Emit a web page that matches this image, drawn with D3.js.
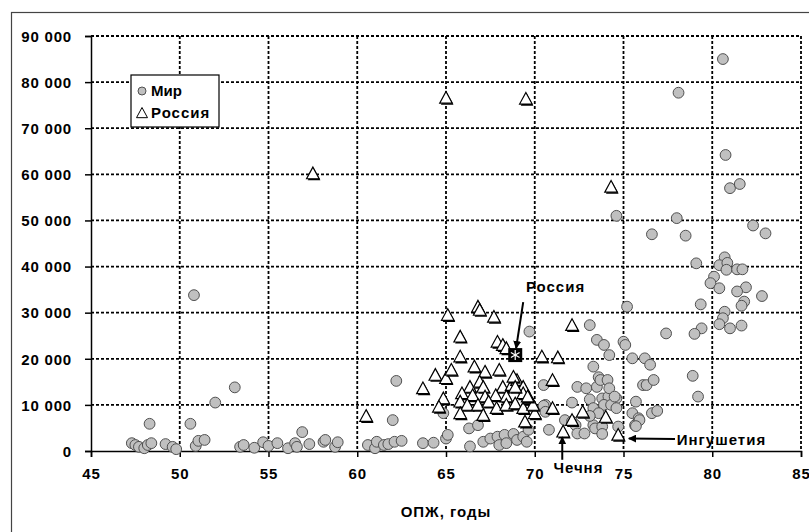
<!DOCTYPE html>
<html>
<head>
<meta charset="utf-8">
<script src="https://cdn.jsdelivr.net/npm/d3@7"></script>
<style>
  body { margin: 0; background: #fff; }
  svg text { font-family: "Liberation Sans", Arial, sans-serif; font-weight: bold; fill: #000; }
</style>
</head>
<body>
<svg id="chart" width="809" height="532"></svg>
<script>
// ОПЖ (years) vs GRP per capita
var xTicks = [45, 50, 55, 60, 65, 70, 75, 80, 85];
var yTicks = [0, 10000, 20000, 30000, 40000, 50000, 60000, 70000, 80000, 90000];

// Мир — countries of the world
var worldPoints = [
  [47.3,1700],[47.5,1300],[47.7,900],[48.0,600],[48.2,1300],[48.4,1700],[48.3,5900],[49.2,1500],
  [49.6,900],[49.8,400],[50.6,5900],[50.8,33800],[50.9,1100],[51.05,2200],[51.4,2400],[52.0,10500],
  [53.1,13800],[53.4,900],[53.6,1300],[54.2,700],[54.7,1900],[55.0,1100],[55.5,1700],[56.1,600],
  [56.5,1700],[56.6,900],[56.9,4100],[57.3,1500],[58.1,2000],[58.2,2400],[58.75,900],[58.9,1900],
  [60.6,1300],[61.0,600],[61.1,2000],[61.5,1300],[61.75,1500],[62.1,2000],[62.5,2200],[62.0,6700],
  [62.2,15200],[63.7,1700],[64.3,1800],[64.85,8200],[65.0,2700],[65.1,3500],[66.3,4900],[66.8,5600],
  [66.35,1000],[67.1,2000],[67.5,2700],[67.9,3100],[68.3,3500],[68.0,1300],[68.4,1700],[68.8,3700],
  [69.0,2400],[69.35,3100],[69.55,2000],[69.65,4600],[69.7,25900],[70.5,14300],[70.6,10000],
  [70.5,9800],[70.6,8500],[70.8,4600],[71.7,6700],[72.1,6400],[72.3,5600],[72.4,3800],[72.8,3800],
  [73.3,5600],[73.4,4900],[73.8,5300],[73.8,3700],[74.7,5300],[72.1,10500],[73.1,11200],[73.8,11400],
  [74.15,11800],[74.6,11400],[73.9,10000],[74.3,10000],[74.6,9300],[73.3,9300],[73.6,8200],
  [73.1,7600],[75.5,8200],[75.85,7100],[75.65,5600],[76.6,8200],[76.9,8700],[72.4,13900],[72.9,13600],
  [73.5,13900],[73.6,16000],[73.7,15400],[74.1,15400],[74.2,13600],[74.5,11800],[73.3,18300],
  [76.1,14300],[76.3,14300],[76.7,15400],[75.7,10700],[75.9,6700],[75.7,5400],[73.1,27300],
  [73.5,24100],[73.9,23000],[75.0,23700],[75.1,23000],[74.2,20800],[75.5,20100],[76.2,20100],
  [76.5,18700],[75.2,31300],[77.4,25500],[74.6,51000],[78.0,50500],[76.6,47000],[78.5,46700],
  [82.3,48900],[83.0,47200],[79.1,40700],[80.7,42000],[80.4,40300],[80.85,40800],[80.8,39300],
  [81.4,39400],[81.7,39400],[80.1,37800],[79.9,36400],[80.4,35300],[81.9,35500],[81.4,34600],
  [82.8,33600],[81.8,32400],[81.65,31500],[79.35,31800],[80.7,30200],[80.6,28800],[80.4,27500],
  [81.0,26600],[81.65,27200],[79.4,26600],[79.0,25400],[78.9,16300],[79.2,11800],[80.6,85000],
  [78.1,77700],[80.75,64200],[81.0,57000],[81.55,57900]
];

// Россия — regions of Russia
var russiaPoints = [
  [57.5,60200],[65.0,76600],[69.5,76400],[74.3,57300],[60.5,7600],[63.7,13600],[64.4,16500],
  [65.0,15800],[65.3,17600],[65.1,29500],[65.8,24800],[65.8,20500],[66.6,18300],[66.8,31300],
  [66.9,30600],[67.7,29100],[67.9,23700],[68.2,23000],[68.4,22300],[67.2,17200],[68.0,17600],
  [66.35,13900],[66.9,15000],[67.1,13900],[68.2,13900],[68.7,14300],[69.0,15400],[69.35,13900],
  [64.85,11400],[65.9,12500],[66.5,12100],[67.2,11800],[67.8,12100],[68.4,11800],[64.6,9600],
  [65.8,10700],[66.2,10000],[66.8,10000],[67.4,10700],[67.85,9300],[68.4,10000],[68.9,10300],
  [69.35,9300],[65.8,8200],[67.1,7800],[69.45,6400],[70.4,20500],[71.3,20300],[72.1,27300],
  [71.0,15400],[70.0,8200],[71.0,9300],[71.6,4200],[72.1,6700],[72.7,8500],[74.0,7400],[74.7,3500],
  [68.8,16100],[69.35,12500],[69.7,11400],[68.9,13900],[69.9,10000],[69.6,11800]
];

var russiaTotal = [68.9, 20800];

// annotations: text position, arrow start, arrow end (data units)
var notes = [
  { label: "Россия",    tx: 69.5, ty: 34500, x1: 69.35, y1: 32300, x2: 68.95, y2: 22300 },
  { label: "Чечня",     tx: 71.05, ty: -4700, x1: 71.55, y1: -1900, x2: 71.55, y2: 3000 },
  { label: "Ингушетия", tx: 78.0, ty: 1300, x1: 77.9, y1: 2600, x2: 75.3, y2: 2700 }
];

var svg = d3.select("#chart");
var margin = { left: 91, top: 36 },
    width = 710, height = 415;

// outer chart frame (cropped at right and bottom)
svg.append("rect")
  .attr("x", 11.5).attr("y", 12.5)
  .attr("width", 900).attr("height", 600)
  .attr("fill", "#fff").attr("stroke", "#444").attr("stroke-width", 1.2);

var x = d3.scaleLinear().domain([45, 85]).range([0, width]);
var y = d3.scaleLinear().domain([0, 90000]).range([height, 0]);

var g = svg.append("g").attr("transform", "translate(" + margin.left + "," + margin.top + ")");

// dotted grid
g.append("g").selectAll("line")
  .data(yTicks.filter(d => d > 0))
  .enter().append("line")
    .attr("x1", 0).attr("x2", width)
    .attr("y1", d => y(d)).attr("y2", d => y(d))
    .attr("stroke", "#000").attr("stroke-width", 1.8).attr("stroke-dasharray", "3,2");

g.append("g").selectAll("line")
  .data(xTicks.filter(d => d > 45))
  .enter().append("line")
    .attr("x1", d => x(d)).attr("x2", d => x(d))
    .attr("y1", 0).attr("y2", height)
    .attr("stroke", "#000").attr("stroke-width", 1.8).attr("stroke-dasharray", "3,2");

var fmt = d => d3.format(",")(d).replace(/,/g, " ");

var xAxis = g.append("g")
  .attr("transform", "translate(0," + height + ")")
  .call(d3.axisBottom(x).tickValues(xTicks).tickSize(6).tickPadding(9).tickFormat(d3.format("d")));
var yAxis = g.append("g")
  .call(d3.axisLeft(y).tickValues(yTicks).tickSize(6).tickPadding(13).tickFormat(fmt));

[xAxis, yAxis].forEach(function(a) {
  a.select(".domain").attr("stroke", "#000").attr("stroke-width", 1.5);
  a.selectAll(".tick line").attr("stroke", "#000").attr("stroke-width", 1.5);
  a.selectAll("text").style("font-size", "15px").style("letter-spacing", "0.8px").attr("fill", "#000");
});
yAxis.selectAll("text").attr("dy", "0.35em");
xAxis.selectAll(".tick text").attr("y", 17);

g.append("text")
  .attr("x", width / 2).attr("y", height + 66)
  .attr("text-anchor", "middle")
  .style("font-size", "15px").style("letter-spacing", "1px")
  .text("ОПЖ, годы");

// world circles
g.append("g").selectAll("circle")
  .data(worldPoints)
  .enter().append("circle")
    .attr("cx", d => x(d[0])).attr("cy", d => y(d[1]))
    .attr("r", 5.4)
    .attr("fill", "#c0c0c0").attr("stroke", "#505050").attr("stroke-width", 1);

// Russian regions: white triangles with a dark shadow
function tri(cx, cy, s) {
  return "M" + cx + "," + (cy - s) + "L" + (cx + s) + "," + (cy + s * 0.85) +
         "L" + (cx - s) + "," + (cy + s * 0.85) + "Z";
}
var tg = g.append("g");
russiaPoints.forEach(function(d) {
  var cx = x(d[0]), cy = y(d[1]);
  tg.append("path").attr("d", tri(cx + 1.2, cy + 1.6, 6.3)).attr("fill", "#000");
  tg.append("path").attr("d", tri(cx, cy, 6.3))
    .attr("fill", "#fff").attr("stroke", "#000").attr("stroke-width", 1.2);
});

// Russia overall marker
var rx = x(russiaTotal[0]), ry = y(russiaTotal[1]);
g.append("rect").attr("x", rx - 7).attr("y", ry - 7).attr("width", 14).attr("height", 14).attr("fill", "#000");
[0, 60, 120].forEach(function(a) {
  var r = a * Math.PI / 180;
  g.append("line")
    .attr("x1", rx - 5 * Math.sin(r)).attr("y1", ry - 5 * Math.cos(r))
    .attr("x2", rx + 5 * Math.sin(r)).attr("y2", ry + 5 * Math.cos(r))
    .attr("stroke", "#fff").attr("stroke-width", 1.2);
});

// arrows and labels
svg.append("defs").append("marker")
  .attr("id", "arrow").attr("viewBox", "0 0 10 10")
  .attr("refX", 9).attr("refY", 5)
  .attr("markerWidth", 4).attr("markerHeight", 4)
  .attr("orient", "auto")
  .append("path").attr("d", "M0,0L10,5L0,10Z").attr("fill", "#000");

notes.forEach(function(n) {
  g.append("line")
    .attr("x1", x(n.x1)).attr("y1", y(n.y1))
    .attr("x2", x(n.x2)).attr("y2", y(n.y2))
    .attr("stroke", "#000").attr("stroke-width", 2)
    .attr("marker-end", "url(#arrow)");
  g.append("text")
    .attr("x", x(n.tx)).attr("y", y(n.ty))
    .style("font-size", "15px").style("letter-spacing", "1px")
    .text(n.label);
});

// legend
var lg = svg.append("g").attr("transform", "translate(131,75)");
lg.append("rect").attr("width", 88).attr("height", 52)
  .attr("fill", "#fff").attr("stroke", "#000").attr("stroke-width", 1.2);
lg.append("circle").attr("cx", 11).attr("cy", 16).attr("r", 4)
  .attr("fill", "#c0c0c0").attr("stroke", "#505050");
lg.append("text").attr("x", 20).attr("y", 21).style("font-size", "15px").text("Мир");
lg.append("path").attr("d", tri(11, 38, 5.5))
  .attr("fill", "#fff").attr("stroke", "#000").attr("stroke-width", 1);
lg.append("text").attr("x", 20).attr("y", 43).style("font-size", "15px").style("letter-spacing", "1px").text("Россия");
</script>
</body>
</html>
